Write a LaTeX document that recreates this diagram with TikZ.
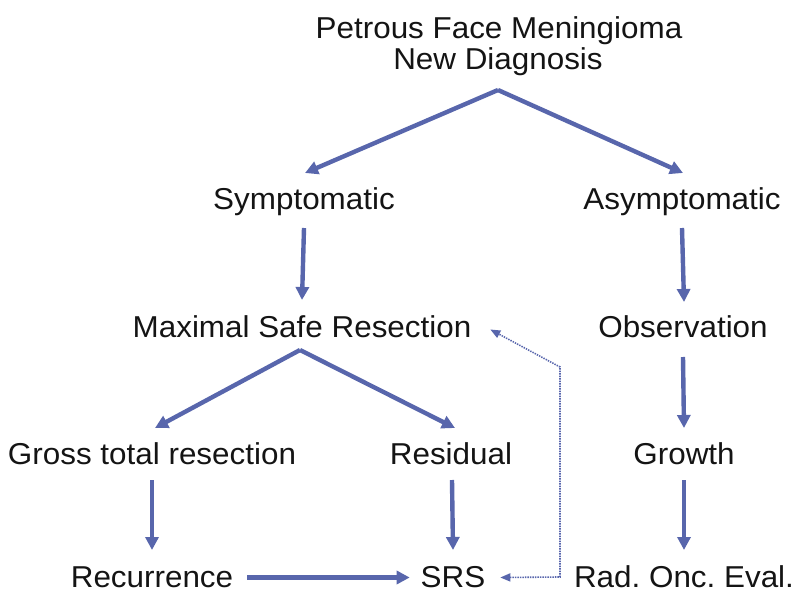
\documentclass[tikz,border=0pt]{standalone}
\usepackage{fontspec}
\setmainfont{Liberation Sans}[FakeStretch=1.04]
\usetikzlibrary{arrows.meta,calc}
\definecolor{arrblue}{RGB}{88,102,172}
\begin{document}
\frenchspacing
\begin{tikzpicture}[x=1pt,y=-1pt,
  lbl/.style={anchor=base, inner sep=0pt, outer sep=0pt, text height=22pt, text depth=7pt,
    font=\fontsize{30.2}{36}\selectfont\frenchspacing, text=black!92},
  arr/.style={draw=arrblue, line width=4.4pt, -{Triangle[length=13pt,width=13pt]}},
  dotarr/.style={draw=arrblue, line width=1.6pt, dash pattern=on 1.4pt off 1.1pt,
    {Triangle[length=10pt,width=8pt]}-{Triangle[length=10pt,width=8pt]}}]
\useasboundingbox (0,0) rectangle (800,604);

\node[lbl] (title) at (499,39) {Petrous Face Meningioma};
\node[lbl] (diag)  at (498,70) {New Diagnosis};
\node[lbl] (sym)   at (304,209) {Symptomatic};
\node[lbl] (asym)  at (682,209) {Asymptomatic};
\node[lbl] (msr)   at (302,337) {Maximal Safe Resection};
\node[lbl] (obs)   at (683,337) {Observation};
\node[lbl] (gtr)   at (152,464) {Gross total resection};
\node[lbl] (res)   at (451,464) {Residual};
\node[lbl] (gro)   at (684,464) {Growth};
\node[lbl] (rec)   at (152,587) {Recurrence};
\node[lbl] (srs)   at (453,587) {SRS};
\node[lbl] (rad)   at (684,587) {Rad. Onc. Eval.};

\coordinate (c1) at (560,577);
\coordinate (c2) at (560,367);

\draw[arr] ([yshift=-13pt]diag.south) -- ([xshift=1pt,yshift=14pt]sym.north);
\draw[arr] ([yshift=-13pt]diag.south) -- ([xshift=1pt,yshift=14pt]asym.north);
\draw[arr] ([yshift=-12pt]sym.south) -- ([yshift=15pt]msr.north);
\draw[arr] ([yshift=-12pt]asym.south) -- ([xshift=1pt,yshift=13pt]obs.north);
\draw[arr] ([xshift=-2pt,yshift=-6pt]msr.south) -- ([xshift=3pt,yshift=14pt]gtr.north);
\draw[arr] ([xshift=-2pt,yshift=-6pt]msr.south) -- ([xshift=4pt,yshift=14pt]res.north);
\draw[arr] ([yshift=-13pt]obs.south) -- ([yshift=14pt]gro.north);
\draw[arr] ([yshift=-9pt]gtr.south) -- ([yshift=15pt]rec.north);
\draw[arr] ([xshift=1pt,yshift=-9pt]res.south) -- ([yshift=15pt]srs.north);
\draw[arr] ([yshift=-9pt]gro.south) -- ([yshift=15pt]rad.north);
\draw[arr] ([xshift=14pt,yshift=2pt]rec.east) -- ([xshift=-11pt,yshift=2pt]srs.west);
\draw[dotarr] ([xshift=15pt,yshift=2pt]srs.east) -- (c1) -- (c2) -- ([xshift=19pt]msr.east);
\end{tikzpicture}
\end{document}
